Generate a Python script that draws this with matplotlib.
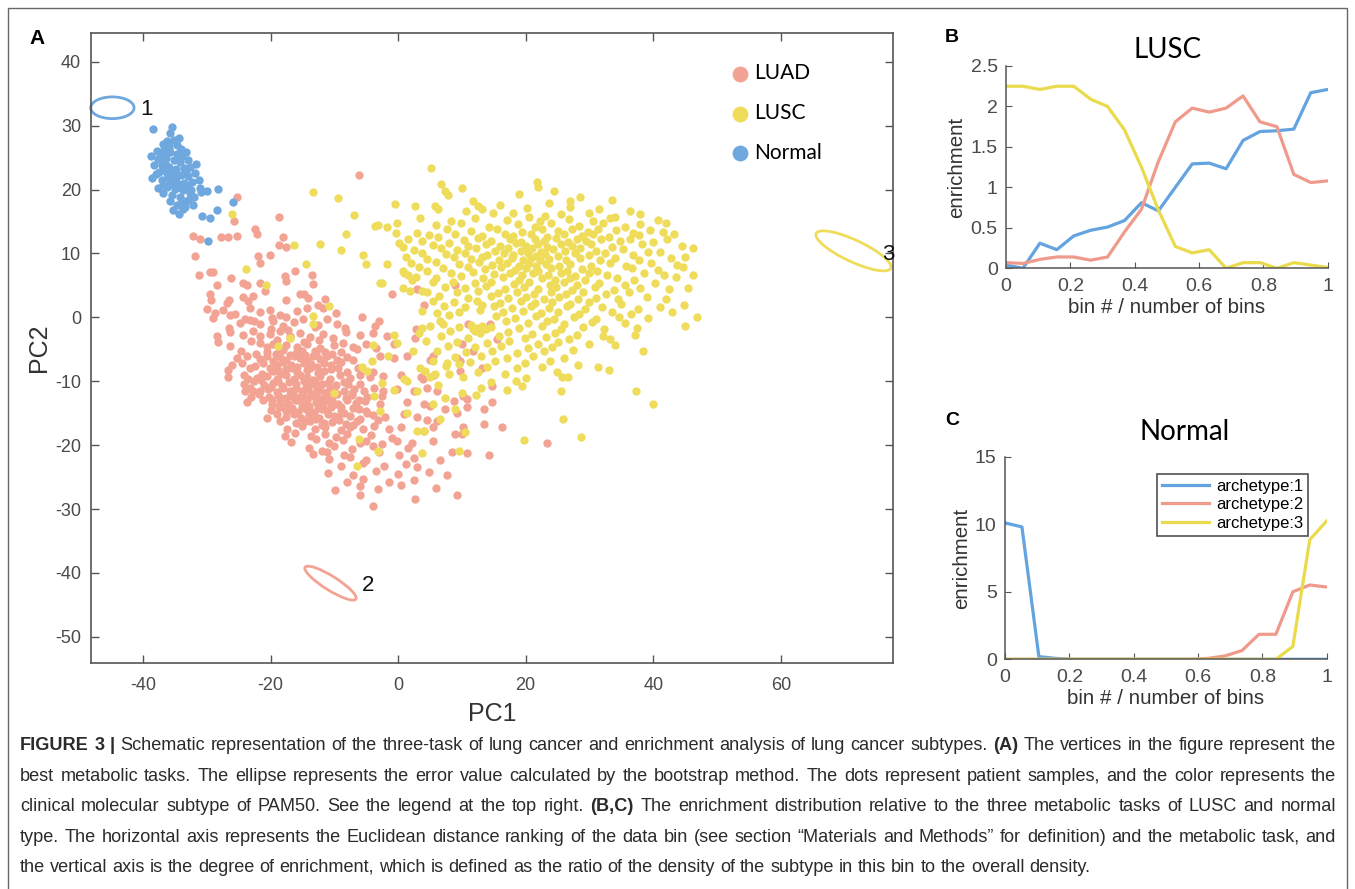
import matplotlib
matplotlib.use("Agg")
import matplotlib.pyplot as plt
import numpy as np
from matplotlib import font_manager
from matplotlib.patches import Ellipse, Rectangle

# ---------------- data: panel A (PC1, PC2 of each sample) ----------------
normal_pts = [
    (-35.5, 29.8), (-35.7, 28.8), (-38.5, 29.5), (-36.8, 27.2), (-35.9, 27.0), (-34.6, 26.9),
    (-37.8, 26.0), (-36.9, 26.1), (-35.8, 25.9), (-34.7, 25.6), (-33.9, 25.2), (-38.8, 25.3),
    (-37.6, 24.8), (-36.4, 24.9), (-35.2, 24.6), (-34.2, 24.3), (-33.0, 24.6), (-38.2, 23.9),
    (-37.0, 23.8), (-35.9, 23.6), (-34.8, 23.2), (-33.6, 23.4), (-32.6, 23.5), (-37.5, 22.7),
    (-36.3, 22.6), (-35.2, 22.4), (-34.0, 22.2), (-32.9, 22.1), (-31.8, 22.6), (-38.6, 21.8),
    (-37.0, 21.5), (-35.8, 21.3), (-34.6, 21.1), (-33.5, 21.0), (-32.3, 21.2), (-36.3, 20.4),
    (-35.0, 20.1), (-33.8, 19.9), (-32.5, 20.0), (-31.0, 20.2), (-37.6, 20.3), (-36.8, 19.4),
    (-35.4, 19.1), (-34.2, 18.8), (-33.0, 18.4), (-30.9, 19.6), (-35.8, 18.2), (-34.6, 17.6),
    (-33.4, 17.3), (-35.3, 16.8), (-34.4, 16.1), (-30.8, 15.8), (-29.5, 15.5), (-28.4, 16.8),
    (-28.3, 20.1), (-30.0, 19.8), (-29.8, 11.9), (-25.9, 18.1), (-36.0, 26.5), (-35.1, 27.7),
    (-36.6, 24.2), (-34.9, 22.0), (-33.2, 22.9), (-36.7, 23.1), (-35.5, 20.8), (-34.4, 20.4),
    (-33.1, 20.5), (-37.2, 25.4), (-33.3, 25.9), (-34.3, 28.0), (-36.1, 21.9), (-32.0, 18.9),
    (-33.9, 18.2), (-31.7, 24.0), (-38.0, 22.5), (-35.6, 22.9), (-34.5, 24.9), (-36.9, 20.7),
    (-32.7, 19.4), (-31.2, 21.5), (-34.0, 26.4), (-36.2, 27.6), (-33.7, 16.9), (-32.2, 17.6),
]

luad_pts = [
    (-6.1, 22.2), (-25.3, 18.9), (-18.6, 15.7), (-25.8, 15.1), (-22.4, 13.8), (-22.2, 13.0),
    (-32.1, 12.8), (-27.7, 12.6), (-26.6, 12.6), (-25.3, 12.8), (-18.0, 12.5), (-31.1, 12.2),
    (-18.6, 11.3), (-17.5, 11.0), (-31.8, 9.6), (-21.9, 9.6), (-20.1, 9.8), (-21.6, 8.5),
    (-16.2, 7.3), (-31.2, 6.7), (-29.5, 7.1), (-29.0, 7.1), (-26.2, 6.1), (-17.7, 6.4),
    (-13.5, 6.6), (-17.5, 5.7), (-28.4, 5.0), (-24.3, 5.3), (-23.7, 5.0), (-21.6, 5.4),
    (-13.4, 5.2), (8.9, 5.0), (-20.9, 4.1), (3.0, 4.4), (4.0, 2.0), (-14.8, 3.6), (-1.0, 3.6),
    (-14.1, 3.1), (-11.5, 2.9), (-29.5, 3.6), (-29.3, 2.7), (-26.9, 2.3), (-26.5, 2.7),
    (-24.3, 3.2), (-23.6, 2.5), (-22.8, 3.3), (-17.6, 2.7), (-15.4, 3.6), (-12.5, 2.0),
    (-30.0, 1.3), (-28.7, 0.7), (-27.5, 1.1), (-25.5, 0.5), (-23.2, 1.4), (-21.7, 0.8),
    (-20.1, 1.2), (-18.5, 0.4), (-15.9, 1.0), (-14.3, 1.5), (-9.8, 0.6), (-11.7, 1.4),
    (-29.0, -0.1), (-26.4, 0.3), (-24.0, -0.2), (-17.5, 0.1), (-11.2, -0.3), (-5.7, 0.0),
    (-22.6, -0.5), (-19.8, -0.1), (-24.8, -0.9), (-23.2, -0.4), (-21.7, -1.1), (-19.6, -0.6),
    (-18.0, -1.3), (-16.4, -0.8), (-14.9, -0.3), (-9.6, -1.0), (-3.0, -0.6), (-13.0, -1.5),
    (-26.5, -1.6), (-20.0, -1.9), (-12.5, -1.2), (-3.6, -1.4), (11.0, -1.0), (14.4, -1.1),
    (2.8, -1.9), (-17.2, -2.0), (-8.3, -1.7), (-28.4, -2.9), (-26.4, -2.3), (-24.3, -2.8),
    (-22.7, -2.2), (-21.7, -3.0), (-20.1, -2.6), (-18.5, -2.1), (-16.9, -2.9), (-15.4, -2.4),
    (-13.8, -3.1), (-11.7, -2.6), (-8.1, -2.3), (-6.0, -2.8), (-3.9, -2.4), (-1.8, -3.0),
    (-19.0, -3.6), (-17.0, -3.3), (-14.8, -3.8), (-10.2, -3.2), (15.5, -3.4), (2.7, -3.3),
    (-23.0, -3.7), (-12.4, -3.5), (-28.2, -3.9), (-26.4, -4.5), (-21.7, -4.0), (-20.6, -4.7),
    (-19.6, -4.2), (-18.5, -4.9), (-17.5, -4.3), (-15.9, -4.6), (-14.3, -4.1), (-12.2, -4.8),
    (-10.1, -4.3), (-8.6, -4.0), (-7.0, -4.6), (-5.0, -4.2), (-3.5, -4.8), (-0.7, -4.1),
    (10.0, -4.2), (-20.5, -5.4), (-18.0, -5.1), (-16.0, -5.6), (-13.0, -5.2), (-9.0, -5.5),
    (-6.5, -5.0), (11.8, -5.3), (-24.6, -5.2), (-22.3, -5.7), (-14.6, -5.9), (-11.4, -5.4),
    (-25.3, -6.3), (-23.7, -6.0), (-21.7, -6.5), (-20.6, -6.1), (-19.6, -6.8), (-18.5, -6.2),
    (-17.5, -6.6), (-16.4, -6.0), (-15.4, -6.4), (-14.3, -6.9), (-13.3, -6.1), (-12.2, -6.5),
    (-11.2, -6.0), (-9.6, -6.7), (-8.0, -6.2), (-7.0, -6.6), (-2.8, -6.1), (-0.7, -6.4),
    (1.4, -6.0), (5.5, -6.0), (5.0, -6.6), (9.2, -6.3), (9.7, -6.8), (-26.0, -7.4),
    (-24.5, -7.1), (-22.5, -7.6), (-21.2, -7.2), (-19.0, -7.5), (-18.0, -7.0), (-16.8, -7.4),
    (-15.8, -7.7), (-14.8, -7.1), (-13.6, -7.3), (-12.7, -7.8), (-11.6, -7.2), (-10.5, -7.5),
    (-9.0, -7.0), (13.1, -7.9), (-26.6, -8.3), (-23.2, -8.0), (-19.6, -8.4), (-17.5, -8.1),
    (-15.9, -8.6), (-14.3, -8.2), (-12.5, -8.7), (-10.5, -8.1), (-8.0, -8.5), (-6.3, -8.0),
    (-4.0, -8.6), (9.7, -8.4), (-21.4, -8.8), (-18.5, -8.9), (-26.7, -9.3), (-24.2, -9.0),
    (-22.2, -9.5), (-20.6, -9.2), (-19.0, -9.7), (-17.5, -9.1), (-16.4, -9.6), (-15.4, -9.0),
    (-14.3, -9.4), (-13.3, -9.8), (-12.2, -9.2), (-10.6, -9.6), (-9.1, -9.1), (-7.5, -9.5),
    (-5.9, -9.0), (-4.4, -9.4), (-2.3, -9.2), (0.4, -9.0), (3.6, -9.3), (5.7, -9.1),
    (3.9, -9.7), (-24.2, -10.4), (-22.6, -10.0), (-21.0, -10.6), (-19.6, -10.2),
    (-18.2, -10.7), (-17.1, -10.1), (-16.0, -10.5), (-14.5, -10.9), (-13.6, -10.3),
    (-12.8, -10.8), (-11.0, -10.2), (-9.8, -10.6), (-8.5, -10.1), (-6.0, -10.5), (14.7, -10.7),
    (-24.0, -11.5), (-23.2, -11.1), (-21.7, -11.6), (-20.4, -11.2), (-19.0, -11.7),
    (-18.0, -11.1), (-17.0, -11.5), (-16.0, -11.0), (-15.1, -11.6), (-14.1, -11.2),
    (-13.1, -11.8), (-12.2, -11.3), (-11.2, -11.7), (-10.1, -11.1), (-8.5, -11.5),
    (-6.9, -11.2), (-5.3, -11.6), (-3.8, -11.1), (-2.3, -11.5), (-0.2, -11.2), (2.5, -11.6),
    (4.6, -11.0), (6.1, -11.5), (-23.1, -12.4), (-21.8, -12.0), (-20.3, -12.5), (-18.9, -12.1),
    (-17.5, -12.6), (-16.5, -12.0), (-15.4, -12.4), (-14.3, -12.9), (-13.6, -12.2),
    (-12.6, -12.7), (-11.5, -12.1), (-10.4, -12.5), (-9.6, -12.0), (-8.2, -12.6), (-7.2, -12.2),
    (-4.8, -12.5), (10.2, -12.3), (10.8, -12.8), (-23.7, -13.3), (-21.2, -13.0), (-19.7, -13.5),
    (-18.5, -13.1), (-17.3, -13.6), (-16.2, -13.0), (-15.1, -13.4), (-14.0, -13.8),
    (-12.9, -13.2), (-11.8, -13.7), (-10.7, -13.1), (-9.4, -13.5), (-8.0, -13.0), (-6.6, -13.4),
    (-5.2, -13.1), (-2.8, -13.6), (1.4, -13.2), (4.0, -13.6), (8.7, -13.1), (14.7, -13.3),
    (5.0, -13.8), (10.8, -14.1), (-20.0, -14.5), (-18.7, -14.1), (-17.5, -14.7), (-16.6, -14.2),
    (-15.7, -14.8), (-14.4, -14.3), (-13.2, -14.9), (-11.9, -14.4), (-10.5, -14.0), (-9.0, -14.6),
    (-7.0, -14.2), (-5.0, -14.7), (7.4, -14.4), (13.4, -14.4), (9.2, -14.9), (-20.6, -15.7),
    (-19.0, -15.2), (-17.6, -15.6), (-16.4, -15.1), (-15.2, -15.8), (-14.0, -15.3),
    (-12.4, -15.7), (-11.0, -15.2), (-9.5, -15.6), (-8.5, -15.0), (-7.5, -15.5), (-6.0, -15.9),
    (-4.0, -15.3), (-2.0, -15.6), (1.0, -15.2), (3.0, -15.6), (4.5, -16.0), (6.1, -16.2),
    (-18.5, -16.3), (-16.0, -16.6), (-13.8, -16.2), (-12.0, -16.8), (-10.3, -16.4), (-8.2, -16.7),
    (-6.5, -16.3), (13.4, -16.7), (-17.4, -17.4), (-15.0, -17.0), (-13.0, -17.5), (-11.4, -17.1),
    (-9.0, -17.6), (-7.5, -17.2), (-5.5, -17.5), (-3.8, -17.0), (-1.5, -17.4), (0.5, -17.1),
    (5.5, -17.1), (10.2, -17.2), (16.3, -17.2), (4.0, -17.8), (-17.7, -18.5), (-16.2, -18.1),
    (-13.6, -18.6), (-11.5, -18.2), (-9.8, -18.7), (-8.0, -18.3), (8.9, -18.2), (10.0, -18.3),
    (-4.2, -18.4), (-1.0, -18.9), (-16.8, -19.5), (-12.9, -19.1), (-10.8, -19.6), (-8.6, -19.2),
    (-6.0, -19.7), (-5.0, -19.3), (-2.5, -19.8), (-0.2, -19.3), (2.2, -19.6), (5.5, -19.3),
    (23.3, -19.6), (-14.0, -20.4), (-10.0, -20.1), (-7.2, -20.6), (-4.0, -20.2), (1.5, -20.5),
    (-12.0, -20.9), (-13.3, -21.4), (-11.2, -21.0), (-8.5, -21.5), (-3.0, -21.1), (0.2, -21.6),
    (8.4, -21.1), (10.8, -21.2), (14.2, -21.6), (-10.8, -22.2), (-7.5, -21.9), (-5.0, -22.4),
    (2.5, -22.0), (6.5, -22.3), (-9.0, -23.2), (-5.5, -22.8), (-2.2, -23.3), (1.2, -22.9),
    (3.0, -23.4), (-11.0, -24.3), (-7.0, -24.6), (-3.5, -24.1), (0.0, -24.5), (4.8, -24.2),
    (7.7, -24.6), (-8.0, -25.7), (-5.5, -25.3), (-1.5, -25.8), (2.5, -25.4), (-6.0, -26.4),
    (-3.2, -26.8), (0.5, -26.3), (6.0, -26.7), (-9.9, -27.0), (-6.0, -27.8), (9.2, -27.8),
    (2.7, -28.4), (-3.9, -29.5),
    # dense core
    (-19.2, -5.8), (-17.0, -5.9), (-15.0, -5.3), (-12.8, -5.7), (-10.3, -5.8), (-20.1, -7.9),
    (-18.8, -8.2), (-16.6, -7.9), (-13.8, -8.0), (-11.6, -8.4), (-9.4, -8.0), (-20.0, -10.9),
    (-18.8, -10.0), (-16.5, -11.6), (-14.8, -10.0), (-13.0, -10.0), (-12.0, -10.4),
    (-10.7, -11.0), (-19.8, -12.9), (-18.3, -12.7), (-16.9, -12.3), (-15.8, -12.9),
    (-14.9, -12.1), (-13.0, -12.4), (-12.1, -13.1), (-11.0, -12.8), (-9.9, -13.6),
    (-18.0, -14.0), (-16.9, -14.5), (-15.0, -14.0), (-13.8, -14.6), (-12.5, -14.2),
    (-11.2, -14.7), (-10.0, -15.4), (-14.6, -16.3), (-12.8, -15.9), (-11.6, -16.5),
    (-9.2, -16.1), (-7.0, -16.8), (-21.5, -9.8), (-23.5, -9.6), (-22.8, -11.6), (-7.8, -10.4),
    (-7.3, -11.9), (-6.2, -12.9), (-8.9, -14.1), (-6.2, -14.4), (-4.8, -15.0), (-3.2, -16.1),
    (-2.6, -12.3),
]

lusc_pts = [
    (5.2, 23.4), (21.8, 21.2), (6.8, 20.8), (22.0, 20.4), (10.0, 20.2), (24.5, 19.8),
    (-13.4, 19.6), (7.4, 19.7), (19.0, 19.3), (7.9, 19.2), (28.5, 18.8), (-9.5, 18.6),
    (11.8, 18.2), (23.6, 17.9), (27.0, 18.2), (33.5, 18.4), (-0.5, 17.8), (2.7, 17.4),
    (12.6, 17.4), (15.9, 17.6), (27.0, 17.3), (5.8, 17.4), (20.2, 17.1), (6.3, 16.9),
    (13.1, 16.9), (10.7, 16.7), (18.0, 16.4), (29.9, 16.3), (31.5, 16.9), (36.3, 16.6),
    (-26.0, 16.1), (-6.9, 16.0), (14.9, 16.3), (23.0, 15.8), (38.0, 16.1), (25.5, 16.2),
    (34.0, 15.7), (3.5, 15.5), (8.3, 15.0), (12.0, 15.6), (17.0, 15.2), (20.5, 15.7),
    (22.3, 15.0), (26.8, 15.4), (30.5, 15.1), (33.2, 15.6), (40.8, 15.2), (42.0, 14.8),
    (-3.6, 14.3), (-3.1, 14.5), (-1.8, 14.2), (-0.2, 14.7), (6.0, 14.4), (9.8, 14.8),
    (14.3, 14.2), (18.8, 14.6), (21.4, 14.1), (24.0, 14.7), (28.4, 14.3), (32.1, 14.8),
    (35.6, 14.2), (38.0, 14.6), (2.9, 13.2), (7.7, 13.9), (11.5, 13.5), (15.5, 13.8),
    (19.5, 13.4), (22.5, 13.9), (25.0, 13.5), (27.3, 13.8), (29.8, 13.3), (31.3, 13.9),
    (34.2, 13.6), (36.8, 13.2), (39.5, 13.7), (41.5, 13.4), (-8.1, 13.1), (-0.3, 13.2),
    (4.8, 12.9), (9.0, 13.0), (13.2, 12.7), (16.8, 13.1), (18.0, 12.8), (20.8, 13.0),
    (23.4, 12.6), (26.0, 13.1), (28.9, 12.7), (30.5, 13.0), (33.0, 12.6), (37.7, 12.9),
    (43.3, 13.0), (1.5, 12.3), (3.8, 12.0), (6.3, 12.5), (10.3, 12.1), (12.5, 12.4),
    (14.5, 11.9), (17.5, 12.3), (19.2, 11.8), (21.4, 12.2), (22.8, 11.9), (24.8, 12.4),
    (26.7, 11.8), (28.0, 12.2), (29.5, 11.9), (31.8, 12.3), (34.8, 11.9), (36.3, 12.3),
    (40.0, 11.8), (42.2, 12.2), (-12.2, 11.5), (0.2, 11.7), (5.5, 11.3), (8.0, 11.6),
    (11.0, 11.2), (13.8, 11.5), (16.0, 11.1), (18.5, 11.6), (20.0, 11.2), (21.9, 11.5),
    (23.3, 11.0), (25.5, 11.4), (27.3, 11.1), (30.3, 11.5), (33.5, 11.0), (38.3, 11.4),
    (44.5, 11.1), (0.8, 11.0), (2.5, 10.6), (6.8, 10.9), (9.3, 10.5), (12.2, 10.8),
    (15.2, 10.4), (17.2, 10.8), (19.3, 10.4), (21.0, 10.8), (22.4, 10.3), (24.3, 10.7),
    (26.1, 10.4), (28.6, 10.8), (31.0, 10.4), (35.2, 10.7), (39.2, 10.3), (46.2, 10.9),
    (-9.0, 10.5), (-16.4, 11.3), (3.7, 10.0), (7.5, 9.9), (10.5, 10.1), (14.0, 9.8),
    (16.6, 10.0), (18.0, 9.7), (20.3, 10.0), (21.7, 9.6), (23.0, 9.9), (25.0, 9.6),
    (27.8, 10.0), (29.9, 9.7), (32.5, 10.1), (36.8, 9.8), (41.0, 10.2), (-5.5, 9.7),
    (1.3, 9.4), (4.5, 9.2), (8.7, 9.5), (11.5, 9.1), (13.2, 9.4), (15.8, 9.0), (17.8, 9.3),
    (19.6, 8.9), (20.8, 9.3), (22.2, 8.9), (23.7, 9.2), (26.4, 8.9), (28.5, 9.3), (31.7, 8.9),
    (34.0, 9.3), (37.8, 8.9), (42.8, 9.3), (45.0, 9.5), (2.0, 8.5), (6.0, 8.7), (9.5, 8.4),
    (12.7, 8.6), (14.8, 8.2), (17.0, 8.5), (18.9, 8.1), (20.5, 8.5), (21.6, 8.1), (23.2, 8.4),
    (25.2, 8.0), (27.0, 8.4), (30.2, 8.1), (33.2, 8.5), (35.8, 8.1), (39.7, 8.5), (43.8, 8.2),
    (-14.4, 8.4), (-5.0, 8.4), (-1.8, 8.4), (3.2, 7.9), (7.0, 7.7), (10.9, 7.9), (13.6, 7.5),
    (16.2, 7.8), (18.3, 7.4), (20.0, 7.7), (22.0, 7.3), (24.0, 7.7), (26.5, 7.3), (28.8, 7.6),
    (31.2, 7.3), (36.6, 7.7), (40.8, 7.4), (44.6, 7.8), (0.9, 7.0), (4.6, 7.2), (8.3, 6.9),
    (11.8, 7.1), (15.0, 6.8), (17.6, 7.0), (19.5, 6.6), (21.2, 7.0), (23.5, 6.6), (25.6, 6.9),
    (27.8, 6.5), (30.0, 6.9), (32.8, 6.6), (38.5, 7.0), (41.7, 6.6), (0.7, 7.3), (2.8, 6.3),
    (6.0, 6.2), (9.9, 6.4), (13.3, 6.1), (16.5, 6.3), (19.0, 5.9), (22.5, 6.2), (24.6, 5.8),
    (26.9, 6.2), (29.3, 5.9), (34.3, 6.2), (37.0, 5.9), (43.5, 6.3), (1.6, 6.6), (5.4, 5.6),
    (8.6, 5.5), (12.0, 5.3), (14.6, 5.6), (18.1, 5.2), (20.6, 5.5), (23.8, 5.1), (26.0, 5.5),
    (28.0, 5.1), (31.5, 5.4), (35.5, 5.0), (40.3, 5.4), (46.3, 6.7), (-23.9, 7.5), (2.2, 5.8),
    (7.4, 4.8), (10.5, 4.6), (13.8, 4.9), (16.8, 4.5), (19.8, 4.8), (22.0, 4.4), (24.8, 4.7),
    (27.2, 4.3), (30.8, 4.7), (33.8, 4.3), (38.0, 4.6), (42.5, 4.4), (-20.7, 5.1), (-2.9, 5.3),
    (-2.6, 5.4), (0.8, 4.6), (4.6, 4.0), (9.2, 3.9), (12.6, 4.1), (15.7, 3.8), (18.6, 4.0),
    (21.3, 3.7), (24.0, 4.0), (26.3, 3.6), (29.0, 3.9), (32.6, 3.6), (36.2, 3.9), (45.4, 4.6),
    (1.9, 4.1), (3.7, 4.1), (6.4, 3.3), (11.0, 3.1), (14.5, 3.3), (17.3, 3.0), (20.0, 3.2),
    (22.8, 2.9), (25.3, 3.2), (28.2, 2.8), (31.0, 3.1), (34.5, 2.8), (39.0, 3.2), (42.0, 2.9),
    (5.5, 2.6), (8.8, 2.4), (12.4, 2.6), (16.0, 2.3), (19.2, 2.5), (21.5, 2.2), (24.2, 2.4),
    (27.0, 2.1), (30.0, 2.4), (35.0, 2.1), (44.8, 2.0), (7.2, 1.8), (10.5, 1.6), (13.2, 2.0),
    (15.0, 1.7), (17.8, 1.5), (20.9, 1.8), (23.6, 1.4), (26.5, 1.7), (29.3, 1.3), (32.0, 1.6),
    (37.6, 1.3), (41.0, 1.6), (-10.8, 1.8), (9.5, 0.9), (12.8, 1.2), (16.5, 0.8), (19.6, 1.0),
    (22.4, 0.6), (25.0, 0.9), (28.4, 0.5), (33.6, 0.8), (36.5, 0.5), (43.0, 0.8), (3.7, 1.0),
    (6.1, 0.7), (8.0, 0.3), (15.3, 0.2), (18.4, -0.1), (21.7, 0.2), (24.4, -0.2), (27.6, 0.1),
    (31.0, -0.2), (34.6, 0.1), (39.2, -0.1), (-13.3, 0.2), (6.5, -0.5), (16.9, -0.6),
    (20.3, -0.9), (23.4, -0.6), (26.0, -1.0), (30.4, -0.7), (35.6, -0.9), (46.8, 0.0),
    (11.5, -1.2), (12.3, -1.7), (13.1, -1.3), (13.8, -1.9), (12.0, -2.2), (14.5, -1.5),
    (12.8, -2.4), (11.7, -1.8), (5.0, -1.3), (9.5, -1.5), (19.0, -1.7), (22.5, -1.4),
    (25.5, -1.8), (29.0, -1.5), (32.3, -1.8), (37.5, -1.6), (-13.3, -1.1), (7.1, -1.1),
    (3.7, -1.6), (8.2, -2.2), (17.2, -2.3), (21.0, -2.6), (24.6, -2.4), (28.0, -2.7),
    (45.0, -1.3), (3.2, -2.4), (6.8, -2.9), (11.0, -3.2), (15.8, -3.0), (19.9, -3.3),
    (23.2, -3.1), (26.8, -3.4), (32.2, -3.0), (33.3, -3.4), (-0.6, -2.8), (9.3, -3.8),
    (14.0, -4.0), (17.4, -3.7), (22.0, -4.1), (25.1, -3.8), (30.0, -4.2), (37.2, -2.7),
    (4.4, -3.7), (7.8, -4.5), (12.0, -4.7), (16.1, -4.5), (20.4, -4.8), (24.2, -4.6),
    (34.0, -4.4), (-17.0, -3.2), (-18.8, -4.5), (-4.0, -4.4), (-0.2, -4.0), (6.1, -5.3),
    (10.6, -5.5), (14.8, -5.2), (18.7, -5.6), (22.9, -5.3), (27.4, -5.1), (2.3, -5.2),
    (8.9, -6.2), (13.0, -6.0), (17.1, -6.3), (21.1, -6.1), (26.0, -6.4), (38.4, -5.2),
    (-1.6, -6.0), (5.4, -6.9), (11.3, -7.0), (15.2, -6.8), (19.9, -7.1), (23.8, -6.9),
    (-4.1, -6.8), (7.5, -7.6), (9.6, -7.3), (14.0, -7.8), (18.6, -8.0), (22.6, -7.7),
    (28.2, -7.5), (-5.6, -7.7), (3.5, -7.9), (7.6, -7.1), (12.5, -8.6), (16.8, -8.8),
    (24.9, -8.5), (31.4, -7.7), (33.0, -8.2), (-4.9, -8.4), (4.2, -8.4), (5.8, -8.9),
    (10.1, -9.3), (20.0, -9.5), (26.7, -9.3), (0.9, -9.6), (5.0, -9.4), (8.0, -8.9),
    (14.5, -10.1), (18.5, -9.9), (25.7, -9.3), (-2.5, -10.2), (1.4, -10.0), (6.2, -10.6),
    (13.0, -11.0), (19.5, -10.8), (-0.7, -11.3), (3.0, -11.6), (10.0, -11.8), (17.0, -11.4),
    (25.6, -11.5), (37.3, -11.5), (-10.1, -11.8), (-3.8, -12.3), (7.4, -12.6), (12.2, -12.1),
    (5.5, -13.6), (40.0, -13.6), (-2.8, -14.6), (1.4, -14.9), (9.0, -14.4), (6.6, -15.9),
    (25.9, -15.9), (2.9, -17.8), (4.0, -17.8), (10.5, -18.0), (28.7, -18.8), (-6.2, -19.1),
    (19.8, -19.2), (-3.1, -20.9), (9.6, -20.9), (3.7, -21.2), (-6.5, -23.2),
]

# archetype ellipses (bootstrap error): centre, (width, height, angle) in PC units
ell_centers = [(-44.8, 32.8), (-10.6, -41.6), (71.4, 10.4)]
ell_sizes = [(6.8, 3.4, 0), (9.4, 2.2, -32), (12.9, 3.4, -25)]
ell_labels = ["1", "2", "3"]
ell_label_pos = [(-39.5, 32.6), (-4.7, -42.0), (76.9, 9.9)]

# ---------------- data: panels B and C (enrichment vs bin position) ----------------
bin_x = np.arange(20) / 19
lusc_a1 = [0.04, 0.0, 0.31, 0.23, 0.40, 0.47, 0.51, 0.59, 0.81, 0.71, 1.00, 1.29, 1.30,
           1.23, 1.58, 1.69, 1.70, 1.72, 2.17, 2.21]
lusc_a2 = [0.07, 0.06, 0.11, 0.14, 0.14, 0.10, 0.14, 0.45, 0.73, 1.32, 1.81, 1.98, 1.93,
           1.98, 2.13, 1.81, 1.75, 1.16, 1.06, 1.08]
lusc_a3 = [2.25, 2.25, 2.21, 2.25, 2.25, 2.09, 2.00, 1.71, 1.25, 0.72, 0.27, 0.19, 0.23,
           0.0, 0.07, 0.07, 0.0, 0.07, 0.04, 0.01]
norm_a1 = [10.1, 9.8, 0.2, 0.07, 0, 0, 0, 0, 0, 0, 0, 0, 0, 0, 0, 0, 0, 0, 0, 0]
norm_a2 = [0, 0, 0, 0, 0, 0, 0, 0, 0, 0, 0, 0, 0.07, 0.25, 0.65, 1.85, 1.85, 5.0, 5.5, 5.35]
norm_a3 = [0, 0, 0, 0, 0, 0, 0, 0, 0, 0, 0, 0, 0, 0, 0, 0, 0, 0.95, 8.85, 10.25]
arche_labels = ["archetype:1", "archetype:2", "archetype:3"]

caption_lines = [
    [("FIGURE 3 |", "bold"),
     (" Schematic representation of the three-task of lung cancer and enrichment analysis "
      "of lung cancer subtypes. ", "normal"),
     ("(A)", "bold"), (" The vertices in the figure represent the", "normal")],
    [("best metabolic tasks. The ellipse represents the error value calculated by the bootstrap "
      "method. The dots represent patient samples, and the color represents the", "normal")],
    [("clinical molecular subtype of PAM50. See the legend at the top right. ", "normal"),
     ("(B,C)", "bold"),
     (" The enrichment distribution relative to the three metabolic tasks of LUSC and normal",
      "normal")],
    [("type. The horizontal axis represents the Euclidean distance ranking of the data bin "
      "(see section \u201cMaterials and Methods\u201d for definition) and the metabolic task, and",
      "normal")],
    [("the vertical axis is the degree of enrichment, which is defined as the ratio of the "
      "density of the subtype in this bin to the overall density.", "normal")],
]

# ---------------- style ----------------
c_luad = "#F3A393"
c_lusc = "#EEDC5A"
c_norm = "#6EA8DE"
c_blue = "#62A3E0"
c_red = "#F09A8C"
c_yel = "#E9DB4C"
tick_col = "#4a4a4a"
spine_col = "#555555"

names = {f.name for f in font_manager.fontManager.ttflist}
helv = "Liberation Sans"
narrow = "Liberation Sans Narrow" if "Liberation Sans Narrow" in names else "Liberation Sans"
calib = "Lato" if "Lato" in names else "DejaVu Sans"
plt.rcParams["font.family"] = [helv, "DejaVu Sans"]
plt.rcParams["axes.unicode_minus"] = False

W, H = 1355, 889
fig = plt.figure(figsize=(W / 100, H / 100), dpi=100)


def fx(px):
    return px / W


def fy(py):
    return 1 - py / H


# frame around the figure
fig.patches.append(Rectangle((fx(8), fy(895)), fx(1347) - fx(8), fy(8) - fy(895),
                             transform=fig.transFigure, fill=False, ec="#666666", lw=1.0))

# ---------------- panel A ----------------
axA = fig.add_axes([fx(90.7), fy(663), fx(893) - fx(90.7), fy(33) - fy(663)])

lx, ly = zip(*luad_pts)
sx, sy = zip(*lusc_pts)
nx, ny = zip(*normal_pts)
hA = axA.scatter(lx, ly, s=36, color=c_luad, lw=0, label="LUAD")
hS = axA.scatter(sx, sy, s=36, color=c_lusc, lw=0, label="LUSC")
hN = axA.scatter(nx, ny, s=36, color=c_norm, lw=0, label="Normal")

ell_cols = [c_norm, c_luad, c_lusc]
for (cx, cy), (w, h, ang), col, lab, (tx, ty) in zip(ell_centers, ell_sizes, ell_cols,
                                                     ell_labels, ell_label_pos):
    axA.add_patch(Ellipse((cx, cy), w, h, angle=ang, fill=False, ec=col, lw=2.0, clip_on=False))
    axA.text(tx, ty, lab, fontsize=16, ha="center", va="center", color="#111111")

axA.set_xlim(-48.2, 77.6)
axA.set_ylim(-54.1, 44.5)
axA.set_xticks([-40, -20, 0, 20, 40, 60])
axA.set_yticks([-50, -40, -30, -20, -10, 0, 10, 20, 30, 40])
axA.tick_params(direction="in", top=True, right=True, length=6, width=1, colors=spine_col,
                labelsize=13, labelcolor=tick_col)
axA.tick_params(axis="x", pad=10)
axA.tick_params(axis="y", pad=7)
for sp in axA.spines.values():
    sp.set_color(spine_col)
    sp.set_linewidth(1.2)
axA.set_xlabel("PC1", fontsize=18, color="#333333", labelpad=6)
axA.set_ylabel("PC2", fontsize=18, color="#333333", labelpad=3)

axA.legend(handles=[hA, hS, hN], loc="upper left", bbox_to_anchor=(0.783, 0.965),
           frameon=False, prop={"family": calib, "size": 15}, markerscale=1.9,
           handletextpad=0.1, labelspacing=0.95, handlelength=1.2, borderaxespad=0)

fig.text(fx(37), fy(38), "A", fontsize=15, fontweight="bold", ha="center", va="center")


# ---------------- panels B and C ----------------
def enrich_axes(rect, a1, a2, a3, ylim, yticks, yticklabels):
    ax = fig.add_axes(rect)
    ax.plot(bin_x, a1, color=c_blue, lw=2.3, label=arche_labels[0])
    ax.plot(bin_x, a2, color=c_red, lw=2.3, label=arche_labels[1])
    ax.plot(bin_x, a3, color=c_yel, lw=2.3, label=arche_labels[2])
    ax.set_xlim(0, 1)
    ax.set_ylim(*ylim)
    ax.set_xticks([0, 0.2, 0.4, 0.6, 0.8, 1.0])
    ax.set_xticklabels(["0", "0.2", "0.4", "0.6", "0.8", "1"])
    ax.set_yticks(yticks)
    ax.set_yticklabels(yticklabels)
    ax.spines["top"].set_visible(False)
    ax.spines["right"].set_visible(False)
    for sp in ("left", "bottom"):
        ax.spines[sp].set_color(spine_col)
        ax.spines[sp].set_linewidth(1.1)
    ax.tick_params(direction="in", length=4, colors=spine_col, labelsize=14,
                   labelcolor=tick_col)
    ax.tick_params(axis="x", pad=7)
    ax.tick_params(axis="y", pad=6)
    ax.set_xlabel("bin # / number of bins", fontsize=14.8, color="#333333", labelpad=2)
    ax.set_ylabel("enrichment", fontsize=14.8, color="#333333", labelpad=3)
    return ax


axB = enrich_axes([fx(1006), fy(268.3), fx(1327.7) - fx(1006), fy(66) - fy(268.3)],
                  lusc_a1, lusc_a2, lusc_a3, (0, 2.5), [0, 0.5, 1, 1.5, 2, 2.5],
                  ["0", "0.5", "1", "1.5", "2", "2.5"])
axC = enrich_axes([fx(1005), fy(659.3), fx(1326.7) - fx(1005), fy(456.7) - fy(659.3)],
                  norm_a1, norm_a2, norm_a3, (0, 15), [0, 5, 10, 15],
                  ["0", "5", "10", "15"])
axC.legend(loc="upper right", bbox_to_anchor=(0.942, 0.915), fontsize=12, frameon=True,
           fancybox=False, edgecolor="#222222", handlelength=2.8, handletextpad=0.4,
           labelspacing=0.2, borderpad=0.3, borderaxespad=0).get_frame().set_linewidth(1.2)

fig.text(fx(1168), fy(50), "LUSC", fontsize=20, family=calib, ha="center", va="center")
fig.text(fx(1185), fy(432), "Normal", fontsize=20, family=calib, ha="center", va="center")
fig.text(fx(952), fy(37), "B", fontsize=14, fontweight="bold", ha="center", va="center")
fig.text(fx(952), fy(420), "C", fontsize=14, fontweight="bold", ha="center", va="center")

# ---------------- caption (word by word, justified) ----------------
renderer = fig.canvas.get_renderer()
cap_x0, cap_x1 = 20, 1336
cap_base = [750, 781, 811, 842, 872]

# pick the font size so that line 2 fits the width with normal word spaces
probe = fig.text(0, 0, "".join(t for t, _ in caption_lines[1]), fontsize=10, family=narrow)
cap_size = 10 * (cap_x1 - cap_x0) / probe.get_window_extent(renderer=renderer).width * 0.985
probe.remove()


def caption_line(runs, ypx, justify):
    words = []
    for txt, wt in runs:
        for w in txt.split():
            words.append((w, wt))
    objs, widths = [], []
    for w, wt in words:
        t = fig.text(0, fy(ypx), w, fontsize=cap_size, family=narrow, fontweight=wt,
                     color="#2b2b2b", ha="left", va="baseline")
        widths.append(t.get_window_extent(renderer=renderer).width)
        objs.append(t)
    sp = fig.text(0, 0, "a a", fontsize=cap_size, family=narrow)
    sp2 = fig.text(0, 0, "aa", fontsize=cap_size, family=narrow)
    space = sp.get_window_extent(renderer=renderer).width - sp2.get_window_extent(renderer=renderer).width
    sp.remove()
    sp2.remove()
    if justify and len(words) > 1:
        space = (cap_x1 - cap_x0 - sum(widths)) / (len(words) - 1)
    x = cap_x0
    for t, w in zip(objs, widths):
        t.set_x(fx(x))
        x += w + space


for i, runs in enumerate(caption_lines):
    caption_line(runs, cap_base[i], justify=(i < len(caption_lines) - 1))

fig.savefig("out.png", dpi=100)
